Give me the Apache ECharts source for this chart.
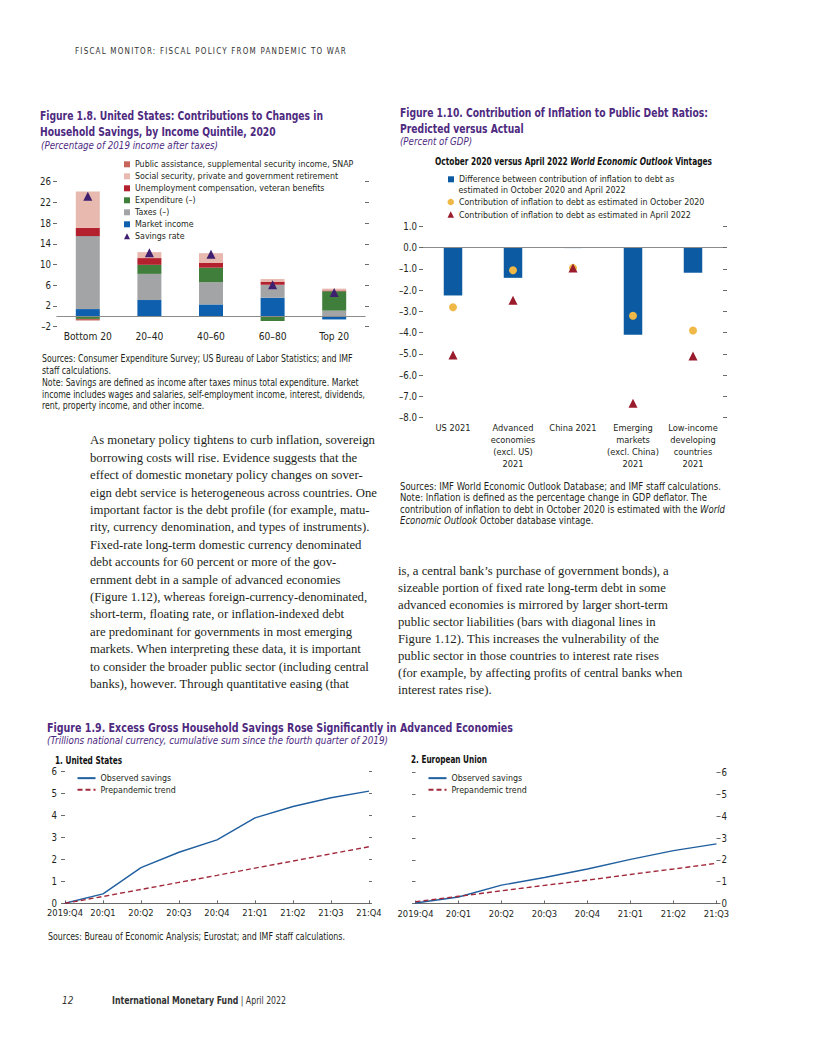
<!DOCTYPE html>
<html><head><meta charset="utf-8">
<script src="https://cdn.jsdelivr.net/npm/echarts@6/dist/echarts.min.js"></script>
<style>
body{margin:0;width:816px;height:1056px;position:relative;background:#fff;overflow:hidden}
#chart{position:absolute;left:0;top:0;width:816px;height:1056px}
.t{position:absolute;white-space:nowrap;line-height:1;transform-origin:0 50%;z-index:5}
</style></head>
<body>
<div id="chart"></div>
<script>
// ---------- Data ----------
const cats18 = ['Bottom 20', '20–40', '40–60', '60–80', 'Top 20'];
const marketIncome     = [1.4, 3.15, 2.3, 3.6, -0.6];
const taxes            = [14.1, 5.05, 4.3, 2.5, 1.1];
const expenditure      = [-0.5, 1.75, 2.8, -0.9, 3.75];
const unemployment     = [1.6, 1.3, 0.9, 0.6, 0.15];
const socialSecurity   = [7.0, 1.15, 1.9, 0.5, 0.35];
const publicAssistance = [-0.3, 0, 0, 0, 0];
const savingsRate      = [23.2, 12.3, 12.0, 6.1, 4.6];

const cats110 = ['US 2021', 'Advanced\neconomies\n(excl. US)\n2021', 'China 2021',
  'Emerging\nmarkets\n(excl. China)\n2021', 'Low-income\ndeveloping\ncountries\n2021'];
const difference = [-2.25, -1.42, -0.02, -4.1, -1.18];
const oct2020    = [-2.8, -1.06, -0.96, -3.2, -3.9];
const apr2022    = [-5.05, -2.48, -0.96, -7.32, -5.1];

const quartersUS = ['2019:Q4', '20:Q1', '20:Q2', '20:Q3', '20:Q4', '21:Q1', '21:Q2', '21:Q3', '21:Q4'];
const usObserved = [0, 0.43, 1.62, 2.32, 2.88, 3.88, 4.4, 4.8, 5.1];
const usTrend    = [0, 0.31, 0.63, 0.95, 1.27, 1.6, 1.92, 2.25, 2.57];
const quartersEU = ['2019:Q4', '20:Q1', '20:Q2', '20:Q3', '20:Q4', '21:Q1', '21:Q2', '21:Q3'];
const euObserved = [0.02, 0.3, 0.84, 1.19, 1.58, 2.02, 2.42, 2.73];
const euTrend    = [0.08, 0.33, 0.58, 0.83, 1.07, 1.33, 1.58, 1.84];

// ---------- Fonts / colours ----------
const SANS = "'DejaVu Sans Condensed','Liberation Sans',sans-serif";
const SERIF = "'Liberation Serif','DejaVu Serif',serif";
const INK = '#231f20';
const PURPLE = '#4e2a7f';

// ---------- HTML text ----------
function block(o){
  const els = [];
  o.lines.forEach((ln, i) => {
    const d = document.createElement('div');
    d.className = 't';
    d.innerHTML = ln;
    Object.assign(d.style, {
      left: o.x + 'px',
      top: (o.y + i * (o.lh || 0) - 0.525 * o.size) + 'px',
      fontSize: o.size + 'px',
      fontFamily: o.family || SANS,
      fontWeight: o.weight || 'normal',
      fontStyle: o.style || 'normal',
      color: o.color || INK,
      letterSpacing: (o.ls || 0) + 'px'
    });
    document.body.appendChild(d);
    els.push(d);
  });
  let s = o.scale || 1;
  if (o.width) {
    const w = Math.max(...els.map(e => e.getBoundingClientRect().width));
    s = o.width / w;
  }
  els.forEach(e => e.style.transform = 'scaleX(' + s + ')');
  return s;
}

block({lines:['FISCAL MONITOR: FISCAL POLICY FROM PANDEMIC TO WAR'], x:75, y:52, size:8.6, ls:1.3, color:'#333', width:272});

block({lines:['Figure 1.8. United States: Contributions to Changes in','Household Savings, by Income Quintile, 2020'],
  x:40, y:116, lh:15.8, size:13, weight:'bold', color:PURPLE, width:283});
block({lines:['(Percentage of 2019 income after taxes)'], x:41, y:145.3, size:11, style:'italic', color:PURPLE, width:177});
block({lines:['Sources: Consumer Expenditure Survey; US Bureau of Labor Statistics; and IMF',
  'staff calculations.',
  'Note: Savings are defined as income after taxes minus total expenditure. Market',
  'income includes wages and salaries, self-employment income, interest, dividends,',
  'rent, property income, and other income.'], x:41.5, y:359, lh:11.9, size:9.8, width:323});

block({lines:['Figure 1.10. Contribution of Inflation to Public Debt Ratios:','Predicted versus Actual'],
  x:400, y:113.3, lh:15.3, size:13, weight:'bold', color:PURPLE, width:308});
block({lines:['(Percent of GDP)'], x:400, y:141.5, size:11, style:'italic', color:PURPLE, width:72});
block({lines:['October 2020 versus April 2022 <i>World Economic Outlook</i> Vintages'], x:435, y:161.7, size:10.5, weight:'bold', color:'#111', width:277});
block({lines:['Sources: IMF World Economic Outlook Database; and IMF staff calculations.',
  'Note: Inflation is defined as the percentage change in GDP deflator. The',
  'contribution of inflation to debt in October 2020 is estimated with the <i>World</i>',
  '<i>Economic Outlook</i> October database vintage.'], x:400, y:487.3, lh:11.2, size:9.8, width:325});

block({lines:['Figure 1.9. Excess Gross Household Savings Rose Significantly in Advanced Economies'], x:47, y:728, size:13, weight:'bold', color:PURPLE, width:466});
block({lines:['(Trillions national currency, cumulative sum since the fourth quarter of 2019)'], x:47, y:740.5, size:11, style:'italic', color:PURPLE, width:341});
block({lines:['1. United States'], x:55, y:760.5, size:10.5, weight:'bold', color:'#111', width:67});
block({lines:['2. European Union'], x:411, y:760, size:10.5, weight:'bold', color:'#111', width:76});
block({lines:['Sources: Bureau of Economic Analysis; Eurostat; and IMF staff calculations.'], x:48.3, y:936.7, size:9.8, width:297});

const bodyScale = block({lines:[
  'As monetary policy tightens to curb inflation, sovereign',
  'borrowing costs will rise. Evidence suggests that the',
  'effect of domestic monetary policy changes on sover-',
  'eign debt service is heterogeneous across countries. One',
  'important factor is the debt profile (for example, matu-',
  'rity, currency denomination, and types of instruments).',
  'Fixed-rate long-term domestic currency denominated',
  'debt accounts for 60 percent or more of the gov-',
  'ernment debt in a sample of advanced economies',
  '(Figure 1.12), whereas foreign-currency-denominated,',
  'short-term, floating rate, or inflation-indexed debt',
  'are predominant for governments in most emerging',
  'markets. When interpreting these data, it is important',
  'to consider the broader public sector (including central',
  'banks), however. Through quantitative easing (that'],
  x:90, y:441, lh:17.4, size:12.4, family:SERIF, width:287});
block({lines:[
  'is, a central bank’s purchase of government bonds), a',
  'sizeable portion of fixed rate long-term debt in some',
  'advanced economies is mirrored by larger short-term',
  'public sector liabilities (bars with diagonal lines in',
  'Figure 1.12). This increases the vulnerability of the',
  'public sector in those countries to interest rate rises',
  '(for example, by affecting profits of central banks when',
  'interest rates rise).'],
  x:398, y:572, lh:16.9, size:12.4, family:SERIF, scale:bodyScale});

block({lines:['12'], x:62, y:1001, size:10, style:'italic', color:'#333'});
block({lines:['<b>International Monetary Fund</b> | April 2022'], x:112, y:1001, size:9.6, color:'#333', width:174});

// ---------- Chart ----------
const tickLine = {color:'#444', width:0.8};
const AX = {color:INK, fontFamily:SANS, fontSize:9.6};
const dash = v => (v < 0 ? '–' + Math.abs(v) : '' + v);
const dash1 = v => (v < 0 ? '–' + Math.abs(v).toFixed(1) : v.toFixed(1));
const zeroLine = {silent:true, symbol:'none', label:{show:false},
  lineStyle:{color:'#8c8c8c', width:1, type:'solid'}, data:[{yAxis:0}]};

const N_PA = 'Public assistance, supplemental security income, SNAP';
const N_SS = 'Social security, private and government retirement';
const N_UC = 'Unemployment compensation, veteran benefits';
const N_EX = 'Expenditure (–)';
const N_TX = 'Taxes (–)';
const N_MI = 'Market income';
const N_SR = 'Savings rate';
const N_DF = 'Difference between contribution of inflation to debt as';
const N_OC = 'Contribution of inflation to debt as estimated in October 2020';
const N_AP = 'Contribution of inflation to debt as estimated in April 2022';

const LFS = 8.8;
const legendText = {color:INK, fontFamily:SANS, fontSize:LFS, lineHeight:12};
const lineLegend = {orient:'vertical', top:772.3, itemWidth:18, itemHeight:2, itemGap:0, padding:0,
  selectedMode:false, itemStyle:{opacity:0},
  textStyle:Object.assign({}, legendText, {lineHeight:11.7}),
  data:['Observed savings', 'Prepandemic trend']};

const chart = echarts.init(document.getElementById('chart'), null, {renderer:'svg', width:816, height:1056});
chart.setOption({
  animation:false,
  textStyle:{fontFamily:SANS},
  grid:[
    {left:57, top:181.7, width:308, height:145},
    {left:423, top:226.4, width:300, height:191.3},
    {left:65, top:771.3, width:304, height:132},
    {left:415.5, top:772.5, width:301, height:131}
  ],
  legend:[
    {orient:'vertical', left:124, top:158.3, itemWidth:6, itemHeight:6, itemGap:0, padding:0, selectedMode:false,
     textStyle:legendText,
     data:[{name:N_PA, icon:'rect'}, {name:N_SS, icon:'rect'}, {name:N_UC, icon:'rect'},
           {name:N_EX, icon:'rect'}, {name:N_TX, icon:'rect'}, {name:N_MI, icon:'rect'},
           {name:N_SR, icon:'triangle'}]},
    {orient:'vertical', left:448, top:173.3, itemWidth:6, itemHeight:6, itemGap:0, padding:0, selectedMode:false,
     textStyle:legendText, data:[{name:N_DF, icon:'rect'}]},
    {orient:'vertical', left:447.5, top:195.7, itemWidth:6.5, itemHeight:6.5, itemGap:0, padding:0, selectedMode:false,
     textStyle:Object.assign({}, legendText, {lineHeight:12.6}),
     data:[{name:N_OC, icon:'circle'}, {name:N_AP, icon:'triangle'}]},
    Object.assign({}, lineLegend, {left:76.5}),
    Object.assign({}, lineLegend, {left:427.5})
  ],
  graphic:[
    {type:'text', x:458.5, y:190, silent:true,
     style:{text:'estimated in October 2020 and April 2022', fontSize:LFS, fontFamily:SANS, fill:INK,
            verticalAlign:'middle', textVerticalAlign:'middle'}}
  ],
  xAxis:[
    {gridIndex:0, type:'category', data:cats18,
     axisLine:{lineStyle:tickLine}, axisTick:{inside:true, length:5, lineStyle:tickLine},
     axisLabel:Object.assign({}, AX, {fontSize:10.2, margin:5, interval:0})},
    {gridIndex:1, type:'category', data:cats110,
     axisLine:{lineStyle:tickLine}, axisTick:{length:54, lineStyle:tickLine},
     axisLabel:Object.assign({}, AX, {fontSize:9.2, lineHeight:12, margin:4, interval:0})},
    {gridIndex:1, type:'category', data:cats110, position:'bottom',
     axisLine:{show:false}, axisTick:{inside:true, length:5, lineStyle:tickLine}, axisLabel:{show:false}},
    {gridIndex:2, type:'category', data:quartersUS, boundaryGap:false,
     axisLine:{lineStyle:tickLine}, axisTick:{inside:true, length:3, lineStyle:tickLine},
     axisLabel:Object.assign({}, AX, {fontSize:9.3, margin:5, interval:0})},
    {gridIndex:3, type:'category', data:quartersEU, boundaryGap:false,
     axisLine:{lineStyle:tickLine}, axisTick:{inside:true, length:3, lineStyle:tickLine},
     axisLabel:Object.assign({}, AX, {fontSize:9.3, margin:5, interval:0})}
  ],
  yAxis:[
    {gridIndex:0, type:'value', min:-2, max:26, interval:4, axisLine:{show:false}, splitLine:{show:false},
     axisTick:{show:true, length:4, lineStyle:tickLine}, axisLabel:Object.assign({}, AX, {margin:6, formatter:dash})},
    {gridIndex:0, type:'value', position:'right', min:-2, max:26, interval:4, axisLine:{show:false}, splitLine:{show:false},
     axisTick:{show:true, length:4, lineStyle:tickLine}, axisLabel:{show:false}},
    {gridIndex:1, type:'value', min:-8, max:1, interval:1, axisLine:{show:false}, splitLine:{show:false},
     axisTick:{show:true, length:4, lineStyle:tickLine}, axisLabel:Object.assign({}, AX, {margin:6, formatter:dash1})},
    {gridIndex:1, type:'value', position:'right', min:-8, max:1, interval:1, axisLine:{show:false}, splitLine:{show:false},
     axisTick:{show:true, length:4, lineStyle:tickLine}, axisLabel:{show:false}},
    {gridIndex:2, type:'value', min:0, max:6, interval:1, axisLine:{show:false}, splitLine:{show:false},
     axisTick:{show:true, length:4, lineStyle:tickLine}, axisLabel:Object.assign({}, AX, {margin:8})},
    {gridIndex:2, type:'value', position:'right', min:0, max:6, interval:1, axisLine:{show:false}, splitLine:{show:false},
     axisTick:{show:true, length:3, lineStyle:tickLine}, axisLabel:{show:false}},
    {gridIndex:3, type:'value', position:'right', min:0, max:6, interval:1, axisLine:{show:false}, splitLine:{show:false},
     axisTick:{show:true, length:4, lineStyle:tickLine}, axisLabel:Object.assign({}, AX, {margin:5})},
    {gridIndex:3, type:'value', position:'left', min:0, max:6, interval:1, axisLine:{show:false}, splitLine:{show:false},
     axisTick:{show:true, length:3.5, lineStyle:tickLine}, axisLabel:{show:false}}
  ],
  series:[
    {name:N_MI, type:'bar', stack:'s18', xAxisIndex:0, yAxisIndex:0, barWidth:24, data:marketIncome,
     itemStyle:{color:'#0e5fae'}, markLine:zeroLine},
    {name:N_TX, type:'bar', stack:'s18', xAxisIndex:0, yAxisIndex:0, barWidth:24, data:taxes, itemStyle:{color:'#a3a4a6'}},
    {name:N_EX, type:'bar', stack:'s18', xAxisIndex:0, yAxisIndex:0, barWidth:24, data:expenditure, itemStyle:{color:'#3f7e3b'}},
    {name:N_UC, type:'bar', stack:'s18', xAxisIndex:0, yAxisIndex:0, barWidth:24, data:unemployment, itemStyle:{color:'#b3202e'}},
    {name:N_SS, type:'bar', stack:'s18', xAxisIndex:0, yAxisIndex:0, barWidth:24, data:socialSecurity, itemStyle:{color:'#e8b9ae'}},
    {name:N_PA, type:'bar', stack:'s18', xAxisIndex:0, yAxisIndex:0, barWidth:24, data:publicAssistance, itemStyle:{color:'#c8655b'}},
    {name:N_SR, type:'scatter', xAxisIndex:0, yAxisIndex:0, symbol:'triangle', symbolSize:9, data:savingsRate,
     itemStyle:{color:'#3f1f70', opacity:1}, z:5},

    {name:N_DF, type:'bar', xAxisIndex:1, yAxisIndex:2, barWidth:18.5, data:difference,
     itemStyle:{color:'#0b5aa2'}, markLine:zeroLine},
    {name:N_OC, type:'scatter', xAxisIndex:1, yAxisIndex:2, symbol:'circle', symbolSize:8, data:oct2020,
     itemStyle:{color:'#f0b846', opacity:1}, z:5},
    {name:N_AP, type:'scatter', xAxisIndex:1, yAxisIndex:2, symbol:'triangle', symbolSize:9, data:apr2022,
     itemStyle:{color:'#9a1b2c', opacity:1}, z:6},

    {name:'Observed savings', type:'line', xAxisIndex:3, yAxisIndex:4, data:usObserved, symbol:'none',
     lineStyle:{color:'#1f5f9f', width:1.4}, itemStyle:{color:'#1f5f9f'}},
    {name:'Prepandemic trend', type:'line', xAxisIndex:3, yAxisIndex:4, data:usTrend, symbol:'none',
     lineStyle:{color:'#a1293b', width:1.4, type:[5,3]}, itemStyle:{color:'#a1293b'}},
    {name:'Observed savings', type:'line', xAxisIndex:4, yAxisIndex:6, data:euObserved, symbol:'none',
     lineStyle:{color:'#1f5f9f', width:1.4}, itemStyle:{color:'#1f5f9f'}},
    {name:'Prepandemic trend', type:'line', xAxisIndex:4, yAxisIndex:6, data:euTrend, symbol:'none',
     lineStyle:{color:'#a1293b', width:1.4, type:[5,3]}, itemStyle:{color:'#a1293b'}}
  ]
});
</script>
</body></html>
